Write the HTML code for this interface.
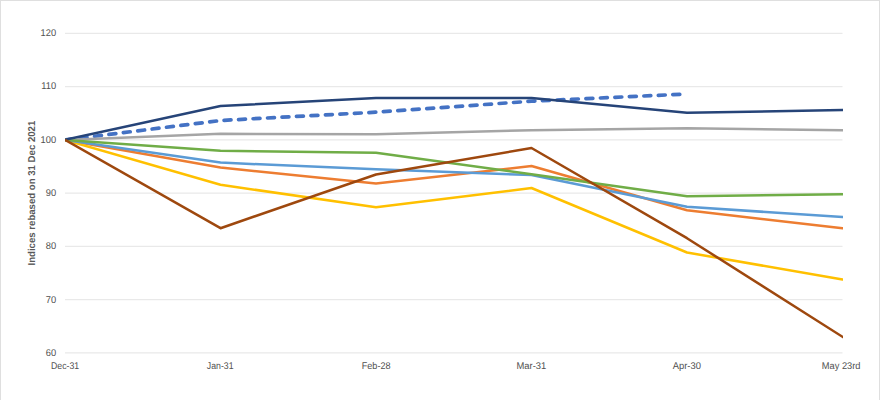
<!DOCTYPE html>
<html>
<head>
<meta charset="utf-8">
<style>
html,body{margin:0;padding:0;background:#fff;}
body{width:880px;height:400px;overflow:hidden;position:relative;font-family:"Liberation Sans",sans-serif;}
#frame{position:absolute;left:0;top:0;width:878px;height:400px;border:1px solid #dfdfdf;border-bottom:none;background:#fff;}
svg{position:absolute;left:0;top:0;}
text{font-family:"Liberation Sans",sans-serif;text-rendering:geometricPrecision;}
.yl{font-size:9.8px;fill:#505050;text-anchor:end;}
.xl{font-size:9.8px;fill:#505050;text-anchor:middle;}
.ttl{font-size:10px;font-weight:bold;fill:#595959;text-anchor:middle;}
.g{stroke:#e9e9e9;stroke-width:1.3;}
.s{fill:none;stroke-width:2.5;stroke-linejoin:round;stroke-linecap:butt;}
</style>
</head>
<body>
<div id="frame"></div>
<svg width="880" height="400" viewBox="0 0 880 400">
  <defs><clipPath id="plot"><rect x="65" y="20" width="778" height="345"/></clipPath></defs>
  <!-- gridlines -->
  <g class="g">
    <line x1="65" x2="842.5" y1="33.4" y2="33.4"/>
    <line x1="65" x2="842.5" y1="86.65" y2="86.65"/>
    <line x1="65" x2="842.5" y1="139.9" y2="139.9"/>
    <line x1="65" x2="842.5" y1="193.15" y2="193.15"/>
    <line x1="65" x2="842.5" y1="246.4" y2="246.4"/>
    <line x1="65" x2="842.5" y1="299.65" y2="299.65"/>
    <line x1="65" x2="842.5" y1="352.9" y2="352.9"/>
  </g>
  <!-- y labels -->
  <g class="yl">
    <text transform="translate(56.1,36.0) scale(0.95,1)">120</text>
    <text transform="translate(56.1,89.3) scale(0.95,1)">110</text>
    <text transform="translate(56.1,142.6) scale(0.95,1)">100</text>
    <text transform="translate(56.1,195.9) scale(0.95,1)">90</text>
    <text transform="translate(56.1,249.2) scale(0.95,1)">80</text>
    <text transform="translate(56.1,302.5) scale(0.95,1)">70</text>
    <text transform="translate(56.1,355.8) scale(0.95,1)">60</text>
  </g>
  <!-- x labels -->
  <g class="xl">
    <text transform="translate(65.1,368.8) scale(0.891,1)">Dec-31</text>
    <text transform="translate(220.2,368.8) scale(0.891,1)">Jan-31</text>
    <text transform="translate(376.15,368.8) scale(0.926,1)">Feb-28</text>
    <text transform="translate(531.4,368.8) scale(0.960,1)">Mar-31</text>
    <text transform="translate(686.85,368.8) scale(0.960,1)">Apr-30</text>
    <text transform="translate(841.15,368.8) scale(0.948,1)">May 23rd</text>
  </g>
  <text class="ttl" transform="translate(35,193.1) rotate(-90) scale(0.961,1)">Indices rebased on 31 Dec 2021</text>
  <!-- series -->
  <g clip-path="url(#plot)">
    <polyline class="s" stroke="#4472C4" style="stroke-width:3.7;stroke-linecap:round;stroke-dasharray:6.9 7.6;stroke-dashoffset:-0.8" points="65,139.9 220.5,120.5 376,112.2 531.5,101.2 685,94.07"/>
    <polyline class="s" stroke="#ED7D31" points="65,139.9 220.5,167.5 376,183.5 531.5,166 687,210.3 842.5,228.3 850,229.2"/>
    <polyline class="s" stroke="#A5A5A5" points="65,139.9 220.5,133.8 376,134.3 531.5,130.2 687,128.2 842.5,130.3 850,130.4"/>
    <polyline class="s" stroke="#FFC000" points="65,139.9 220.5,184.8 376,207.2 531.5,188 687,252.5 842.5,279.5 850,280.8"/>
    <polyline class="s" stroke="#5B9BD5" points="65,139.9 220.5,162.6 376,169.3 531.5,175 687,206.8 842.5,217.05 850,217.5"/>
    <polyline class="s" stroke="#70AD47" points="65,139.9 220.5,150.8 376,152.8 531.5,174.2 687,196.3 842.5,194.3 850,194.2"/>
    <polyline class="s" stroke="#264478" points="65,139.9 220.5,106 376,98 531.5,98 687,112.8 842.5,110 850,109.9"/>
    <polyline class="s" stroke="#9E480E" points="65,139.9 220.5,228.2 376,174.5 531.5,148 687,238.2 842.5,336.8 850,341.6"/>
  </g>
</svg>
</body>
</html>
